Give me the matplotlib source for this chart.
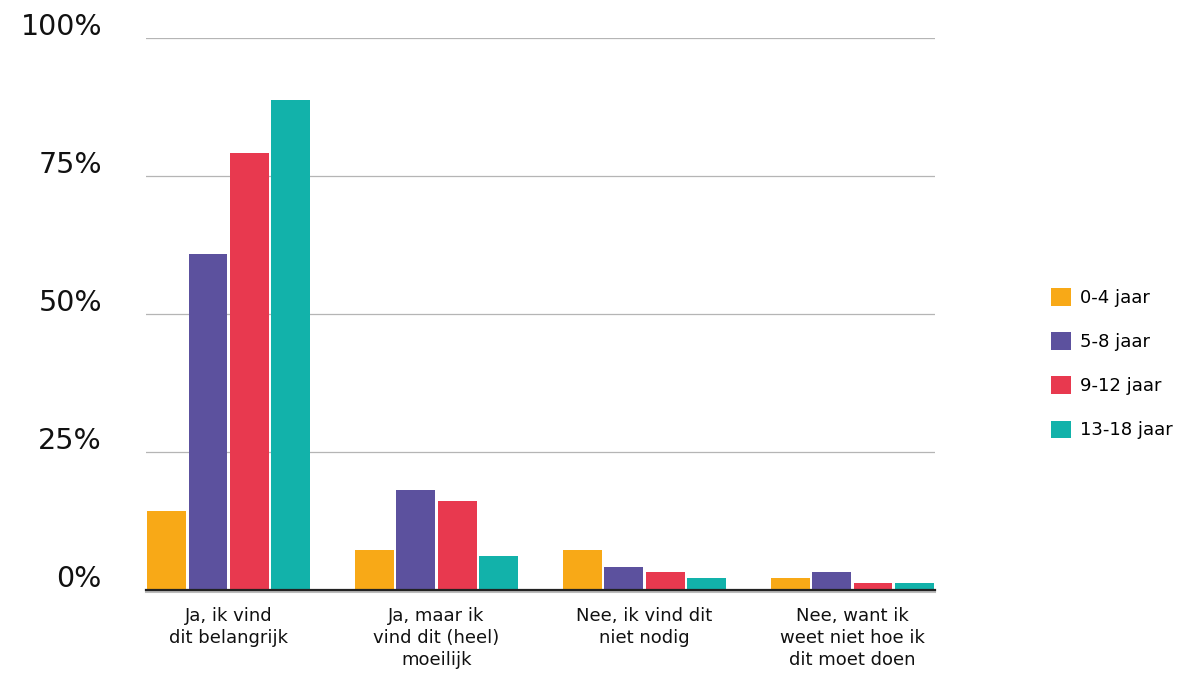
import matplotlib
matplotlib.use("Agg")
import matplotlib.pyplot as plt
import numpy as np

categorieen = ["Ja, ik vind\ndit belangrijk", "Ja, maar ik\nvind dit (heel)\nmoeilijk",
               "Nee, ik vind dit\nniet nodig", "Nee, want ik\nweet niet hoe ik\ndit moet doen"]
leeftijden = ["0-4 jaar", "5-8 jaar", "9-12 jaar", "13-18 jaar"]
waarden_0_4 = [14.3, 7.2, 7.2, 2.2]
waarden_5_8 = [60.9, 18.1, 4.2, 3.3]
waarden_9_12 = [79.2, 16.1, 3.3, 1.3]
waarden_13_18 = [88.8, 6.2, 2.2, 1.3]
kleuren = ["#f8a917", "#5c519e", "#e8394f", "#12b2aa"]
yticks = [0, 25, 50, 75, 100]

plt.rcParams['font.family'] = ['DejaVu Sans']

fig = plt.figure(figsize=(11.78, 6.82), dpi=100)
ax = fig.add_axes([146/1178, 1 - 590/682, 789/1178, 552/682])

x = np.arange(len(categorieen))
slot = 0.199
breedte = 0.187
reeksen = [waarden_0_4, waarden_5_8, waarden_9_12, waarden_13_18]
for i, (waarden, kleur, naam) in enumerate(zip(reeksen, kleuren, leeftijden)):
    ax.bar(x + (i - 1.5) * slot, waarden, width=breedte, color=kleur, label=naam, zorder=3)

ax.set_xlim(-0.398, 3.398)
ax.set_ylim(0, 100)
ax.set_yticks(yticks)
ax.set_yticklabels([])
ax.tick_params(axis='y', length=0)
# y-labels staan links en iets boven de gridlijn
for v in yticks:
    ax.annotate(f"{v}%", xy=(0, v), xycoords=('axes fraction', 'data'),
                xytext=(-44, 11), textcoords='offset pixels',
                ha='right', va='center', fontsize=20.5, color="#111111")
ax.grid(axis='y', color="#b5b5b5", linewidth=0.9, zorder=0)
ax.set_xticks(x)
ax.set_xticklabels(categorieen, fontsize=13, color="#111111", linespacing=1.3)
ax.tick_params(axis='x', length=0, pad=12)
for s in ["top", "right", "left"]:
    ax.spines[s].set_visible(False)
ax.spines["bottom"].set_color("#222222")
ax.spines["bottom"].set_linewidth(1.6)
ax.spines["bottom"].set_zorder(4)
ax.axhline(-0.35, color="#bbbbbb", linewidth=1.5, clip_on=False, zorder=2)

leg = fig.legend(loc="upper left", bbox_to_anchor=(1035/1178, 1 - 272/682), frameon=False,
                 fontsize=13, handlelength=1.1, handleheight=1.1, labelspacing=1.4,
                 handletextpad=0.5)

fig.savefig("out.png", dpi=100)
